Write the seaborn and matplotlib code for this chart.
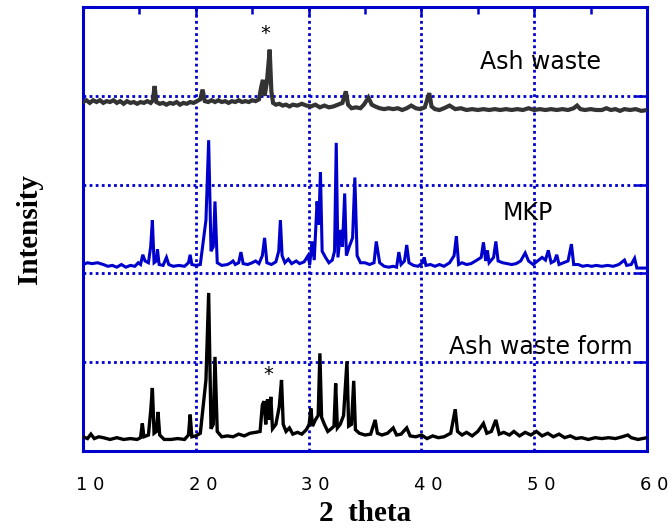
"""
XRD patterns of ash waste, MKP binder and the ash waste form (stacked traces)
"""

import numpy as np
import pandas as pd
import seaborn as sns
import matplotlib.pyplot as plt
import matplotlib.transforms as mtransforms


sns.set_style('white')
plt.rcParams['text.color'] = 'black'
plt.rcParams['axes.labelcolor'] = 'black'
plt.rcParams['xtick.color'] = 'black'

# ---- data (2 theta, offset intensity) ----
ash_x = [10.0, 10.3, 10.6, 10.9, 11.2, 11.5, 11.8, 12.1, 12.4, 12.7, 13.0, 13.3, 13.6, 13.9,
         14.2, 14.5, 14.8, 15.1, 15.4, 15.7, 16.0, 16.2, 16.35, 16.5, 16.8, 17.1, 17.4, 17.7,
         18.0, 18.3, 18.6, 18.9, 19.2, 19.5, 19.8, 20.1, 20.4, 20.6, 20.8, 21.1, 21.4, 21.7,
         22.0, 22.3, 22.6, 22.9, 23.2, 23.5, 23.8, 24.1, 24.4, 24.7, 25.0, 25.3, 25.6, 25.8,
         25.95, 26.1, 26.3, 26.55, 26.7, 26.85, 27.1, 27.4, 27.7, 28.0, 28.3, 28.6, 29.0, 29.4,
         29.8, 30.2, 30.6, 31.0, 31.4, 31.8, 32.2, 32.6, 33.0, 33.3, 33.5, 33.8, 34.2, 34.6,
         34.9, 35.3, 35.6, 35.9, 36.3, 36.7, 37.1, 37.5, 37.9, 38.3, 38.7, 39.1, 39.5, 39.9,
         40.3, 40.7, 40.9, 41.2, 41.6, 42.0, 42.5, 43.0, 43.5, 44.0, 44.5, 45.0, 45.5, 46.0,
         46.5, 47.0, 47.5, 48.0, 48.5, 49.0, 49.5, 50.0, 50.5, 51.0, 51.5, 52.0, 52.5, 53.0,
         53.5, 53.8, 54.1, 54.5, 55.0, 55.5, 56.0, 56.4, 56.8, 57.2, 57.6, 58.0, 58.5, 59.0,
         59.5, 60.0]
ash_y = [3.93, 3.95, 3.92, 3.95, 3.93, 3.95, 3.92, 3.94, 3.93, 3.95, 3.92, 3.94, 3.91, 3.94,
         3.92, 3.93, 3.91, 3.93, 3.92, 3.94, 3.92, 3.95, 4.11, 3.93, 3.91, 3.92, 3.90, 3.92,
         3.91, 3.93, 3.90, 3.92, 3.91, 3.93, 3.92, 3.94, 3.96, 4.07, 3.94, 3.93, 3.95, 3.93,
         3.95, 3.93, 3.94, 3.92, 3.94, 3.93, 3.95, 3.93, 3.94, 3.93, 3.95, 3.94, 3.96, 4.10,
         4.18, 4.00, 4.15, 4.52, 4.05, 3.92, 3.90, 3.91, 3.89, 3.90, 3.88, 3.90, 3.89, 3.91,
         3.89, 3.88, 3.90, 3.87, 3.89, 3.87, 3.88, 3.90, 3.92, 4.05, 3.90, 3.86, 3.87, 3.86,
         3.90, 3.98, 3.90, 3.88, 3.86, 3.85, 3.86, 3.85, 3.86, 3.84, 3.86, 3.89, 3.86, 3.85,
         3.87, 4.03, 3.88, 3.85, 3.84, 3.86, 3.89, 3.85, 3.86, 3.84, 3.85, 3.84, 3.85, 3.84,
         3.85, 3.84, 3.85, 3.84, 3.85, 3.84, 3.86, 3.84, 3.85, 3.84, 3.85, 3.84, 3.85, 3.84,
         3.86, 3.89, 3.85, 3.84, 3.85, 3.84, 3.84, 3.86, 3.84, 3.85, 3.83, 3.85, 3.84, 3.85,
         3.83, 3.84]

mkp_x = [10.0, 10.4, 10.8, 11.3, 11.8, 12.2, 12.6, 13.0, 13.4, 13.8, 14.2, 14.6, 14.9, 15.1,
         15.3, 15.5, 15.8, 16.0, 16.15, 16.3, 16.5, 16.6, 16.75, 17.1, 17.4, 17.6, 18.0, 18.5,
         19.0, 19.35, 19.5, 19.65, 20.0, 20.4, 20.9, 21.14, 21.35, 21.55, 21.7, 21.9, 22.3, 22.8,
         23.1, 23.3, 23.5, 23.8, 24.0, 24.2, 24.6, 25.0, 25.3, 25.6, 25.9, 26.1, 26.3, 26.7,
         27.1, 27.35, 27.5, 27.65, 27.9, 28.2, 28.5, 28.9, 29.2, 29.6, 29.95, 30.1, 30.3, 30.5,
         30.75, 30.9, 31.05, 31.2, 31.5, 31.8, 32.1, 32.3, 32.45, 32.6, 32.85, 33.0, 33.2, 33.35,
         33.6, 33.9, 34.1, 34.3, 34.6, 35.0, 35.4, 35.8, 36.0, 36.3, 36.7, 37.1, 37.5, 37.8,
         38.0, 38.2, 38.5, 38.7, 38.9, 39.3, 39.7, 40.1, 40.25, 40.4, 40.8, 41.2, 41.6, 42.0,
         42.5, 42.9, 43.1, 43.3, 43.6, 44.0, 44.4, 44.8, 45.3, 45.5, 45.7, 45.85, 46.0, 46.4,
         46.6, 46.8, 47.2, 47.6, 48.0, 48.4, 48.8, 49.2, 49.5, 49.9, 50.3, 50.7, 51.0, 51.25,
         51.5, 51.8, 52.0, 52.2, 52.6, 53.0, 53.3, 53.5, 53.9, 54.3, 54.7, 55.1, 55.5, 56.0,
         56.5, 57.0, 57.5, 58.0, 58.2, 58.6, 58.9, 59.1, 60.0]
mkp_y = [2.10, 2.12, 2.11, 2.12, 2.10, 2.08, 2.09, 2.07, 2.10, 2.07, 2.09, 2.08, 2.12, 2.10,
         2.21, 2.14, 2.12, 2.30, 2.60, 2.12, 2.14, 2.27, 2.10, 2.09, 2.18, 2.10, 2.08, 2.09,
         2.08, 2.12, 2.21, 2.10, 2.09, 2.10, 2.60, 3.50, 2.25, 2.30, 2.81, 2.12, 2.09, 2.10,
         2.12, 2.14, 2.10, 2.12, 2.24, 2.11, 2.10, 2.12, 2.14, 2.11, 2.20, 2.40, 2.12, 2.10,
         2.13, 2.25, 2.60, 2.20, 2.12, 2.16, 2.11, 2.14, 2.11, 2.13, 2.20, 2.10, 2.36, 2.15,
         2.81, 2.55, 3.14, 2.25, 2.18, 2.12, 2.15, 2.25, 3.47, 2.18, 2.49, 2.30, 2.90, 2.20,
         2.30, 2.40, 3.08, 2.20, 2.12, 2.12, 2.10, 2.12, 2.36, 2.12, 2.08, 2.07, 2.08, 2.07,
         2.24, 2.10, 2.14, 2.32, 2.12, 2.09, 2.08, 2.12, 2.18, 2.09, 2.10, 2.08, 2.10, 2.08,
         2.12, 2.20, 2.42, 2.10, 2.12, 2.10, 2.11, 2.14, 2.18, 2.35, 2.14, 2.26, 2.12, 2.18,
         2.36, 2.14, 2.12, 2.11, 2.10, 2.11, 2.14, 2.23, 2.14, 2.10, 2.14, 2.18, 2.15, 2.26,
         2.12, 2.14, 2.21, 2.10, 2.12, 2.14, 2.33, 2.10, 2.10, 2.08, 2.09, 2.08, 2.09, 2.08,
         2.09, 2.08, 2.10, 2.15, 2.09, 2.10, 2.17, 2.06, 2.06]

form_x = [10.0, 10.4, 10.7, 11.0, 11.4, 11.8, 12.4, 13.0, 13.6, 14.2, 14.8, 15.1, 15.26, 15.4,
          15.8, 16.0, 16.15, 16.3, 16.5, 16.65, 16.8, 17.2, 17.8, 18.4, 19.0, 19.35, 19.5, 19.65,
          20.0, 20.4, 20.9, 21.14, 21.35, 21.55, 21.7, 21.9, 22.3, 22.8, 23.3, 23.8, 24.3, 24.8,
          25.3, 25.7, 25.9, 26.05, 26.2, 26.35, 26.5, 26.65, 26.8, 27.1, 27.4, 27.6, 27.75, 28.0,
          28.3, 28.6, 29.0, 29.4, 29.8, 30.05, 30.2, 30.35, 30.6, 30.85, 31.0, 31.15, 31.4, 31.7,
          32.0, 32.25, 32.4, 32.55, 32.8, 33.1, 33.4, 33.55, 33.8, 34.0, 34.15, 34.5, 35.0, 35.5,
          35.9, 36.1, 36.5, 37.0, 37.5, 37.8, 38.2, 38.7, 39.0, 39.5, 40.0, 40.5, 41.0, 41.5,
          42.0, 42.6, 43.0, 43.2, 43.6, 44.0, 44.5, 45.0, 45.5, 45.8, 46.2, 46.6, 46.9, 47.3,
          47.8, 48.2, 48.7, 49.2, 49.7, 50.2, 50.7, 51.2, 51.7, 52.2, 52.7, 53.2, 53.7, 54.2,
          54.8, 55.4, 56.0, 56.6, 57.2, 57.8, 58.3, 58.6, 59.2, 60.0]
form_y = [0.16, 0.14, 0.19, 0.14, 0.16, 0.15, 0.13, 0.15, 0.13, 0.14, 0.13, 0.15, 0.31, 0.16,
          0.18, 0.45, 0.71, 0.20, 0.22, 0.44, 0.18, 0.13, 0.13, 0.14, 0.13, 0.18, 0.41, 0.16,
          0.17, 0.20, 0.80, 1.78, 0.25, 0.30, 1.06, 0.22, 0.16, 0.17, 0.16, 0.19, 0.17, 0.20,
          0.21, 0.22, 0.52, 0.56, 0.30, 0.58, 0.35, 0.61, 0.25, 0.30, 0.50, 0.80, 0.30, 0.22,
          0.26, 0.19, 0.21, 0.19, 0.24, 0.30, 0.48, 0.28, 0.35, 0.40, 1.10, 0.38, 0.30, 0.22,
          0.25, 0.28, 0.76, 0.26, 0.30, 0.40, 1.01, 0.28, 0.30, 0.79, 0.24, 0.20, 0.18, 0.19,
          0.35, 0.20, 0.18, 0.20, 0.26, 0.18, 0.19, 0.26, 0.17, 0.16, 0.18, 0.14, 0.17, 0.15,
          0.16, 0.20, 0.47, 0.22, 0.18, 0.21, 0.17, 0.22, 0.31, 0.20, 0.22, 0.35, 0.19, 0.21,
          0.18, 0.22, 0.17, 0.21, 0.18, 0.22, 0.17, 0.20, 0.16, 0.19, 0.15, 0.17, 0.14, 0.15,
          0.13, 0.15, 0.14, 0.15, 0.14, 0.16, 0.18, 0.15, 0.13, 0.15]

x_ticks = [10, 20, 30, 40, 50, 60]
x_tick_labels = ['1 0', '2 0', '3 0', '4 0', '5 0', '6 0']
x_minor = [15, 25, 35, 45, 55]
y_grid = [1, 2, 3, 4]

# label text and where it sits (data coords)
labels = ['Ash waste', 'MKP', 'Ash waste form']
label_x = [50.6, 49.4, 50.55]
label_y = [4.38, 2.68, 1.17]
star_x = [26.2, 26.4]
star_y = [4.70, 0.86]

traces = pd.concat([
    pd.DataFrame({'two_theta': ash_x, 'intensity': ash_y, 'sample': 'Ash waste'}),
    pd.DataFrame({'two_theta': mkp_x, 'intensity': mkp_y, 'sample': 'MKP'}),
    pd.DataFrame({'two_theta': form_x, 'intensity': form_y, 'sample': 'Ash waste form'}),
])
palette = {'Ash waste': '#333333', 'MKP': '#0000cc', 'Ash waste form': '#000000'}
widths = {'Ash waste': 3.0, 'MKP': 2.2, 'Ash waste form': 2.4}

blue = '#0000cc'

fig = plt.figure(figsize=(6.72, 5.29), dpi=100)
ax = fig.add_axes([83 / 672, 1 - 451 / 529, 564 / 672, 444 / 529])

# one lineplot call per sample so each trace gets its own line width
for name, grp in traces.groupby('sample', sort=False):
    sns.lineplot(data=grp, x='two_theta', y='intensity', color=palette[name],
                 estimator=None, sort=False, linewidth=widths[name], ax=ax, zorder=3)
for ln in ax.get_lines():
    ln.set_solid_joinstyle('miter')

ax.set_xlim(10, 60)
ax.set_ylim(0, 5)
ax.set_xticks(x_ticks)
ax.set_xticklabels(x_tick_labels, fontsize=13, family='DejaVu Sans', color='black')
ax.set_xticks(x_minor, minor=True)
ax.set_yticks(y_grid)
ax.set_yticklabels([])

# blue frame, inward ticks on all sides
for s in ax.spines.values():
    s.set_color(blue)
    s.set_linewidth(2.2)
ax.tick_params(axis='both', which='both', direction='in', color=blue, width=1.8,
               top=True, right=True)
ax.tick_params(axis='x', which='major', length=6, pad=18)
ax.tick_params(axis='x', which='minor', length=5)
ax.tick_params(axis='y', which='major', length=9)

ax.grid(True, which='major', color=blue, linestyle=(0, (1, 1.2)), linewidth=2.0, zorder=1)

# tick labels sit a little right of their ticks in the original
shift = mtransforms.ScaledTranslation(7 / 100, 0, fig.dpi_scale_trans)
for lab in ax.get_xticklabels():
    lab.set_transform(lab.get_transform() + shift)

ax.set_xlabel('2  theta', fontsize=21, fontweight='bold', family='Liberation Serif',
              labelpad=4, color='black')
ax.set_ylabel('Intensity', fontsize=21, fontweight='bold', family='Liberation Serif',
              labelpad=25, color='black')

for t, lx, ly in zip(labels, label_x, label_y):
    ax.text(lx, ly, t, fontsize=17, ha='center', va='center', family='DejaVu Sans',
            color='black', zorder=4)
for sx, sy in zip(star_x, star_y):
    ax.text(sx, sy, '*', fontsize=14, ha='center', va='center', family='DejaVu Sans',
            color='black')

fig.savefig('out.png', dpi=100)
